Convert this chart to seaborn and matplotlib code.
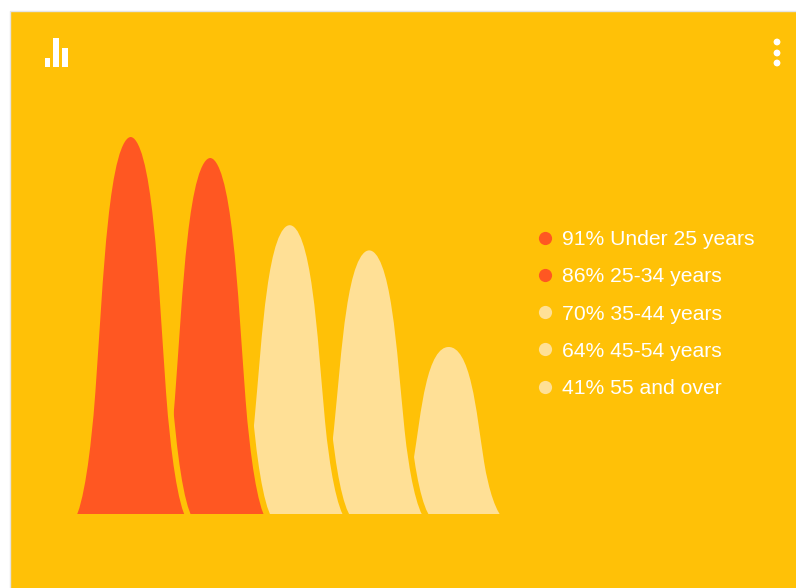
import matplotlib
matplotlib.use("Agg")
import matplotlib.pyplot as plt
import pandas as pd
import seaborn as sns
from matplotlib.lines import Line2D
from matplotlib.patches import Circle, PathPatch, Rectangle
from matplotlib.path import Path
from matplotlib.transforms import Affine2D

ages = ["Under 25 years", "25-34 years", "35-44 years", "45-54 years", "55 and over"]
percent = [91, 86, 70, 64, 41]

AMBER = "#FFC107"
ORANGE = "#FF5722"
PALE = "#FFE096"
bar_colors = [ORANGE, ORANGE, PALE, PALE, PALE]

W, H = 796, 588
STEP_X = 79.5      # px per category
STEP_Y = 4.2       # px per percent
ZERO_Y = 519.2     # pixel row of 0%, the shapes get cut a little above it
FLOOR = (ZERO_Y - 514) / STEP_Y
PAD = 3 / STEP_Y   # amber outline eats 3px, so grow the shape by that much

sns.set_theme(style="white")
plt.rcParams["font.family"] = ["Liberation Sans", "DejaVu Sans"]

fig = plt.figure(figsize=(W / 100, H / 100), dpi=100, facecolor="white")
px = Affine2D().scale(1, -1).translate(0, H)  # pixel coords, y going down

# card behind the chart
fig.add_artist(Rectangle((9.5, 10.5), W, H, facecolor=AMBER, edgecolor="#E4E4E4", lw=1,
                         transform=px, zorder=-1))

ax = fig.add_axes([10 / W, 0, (W - 10) / W, (H - 11) / H])
ax.patch.set_alpha(0)

df = pd.DataFrame({"age": ages, "percent": percent})
sns.barplot(data=df, x="age", y="percent", width=118 / STEP_X, color=AMBER, ax=ax)
ax.set_xlim((10 - 130.7) / STEP_X, (W - 130.7) / STEP_X)
ax.set_ylim(-(H - ZERO_Y) / STEP_Y, (ZERO_Y - 11) / STEP_Y)
ax.axis("off")

# half of a bell as bezier control points: (share of half width, share of height)
profile = [(1.0, 0.0), (0.85, 0.04), (0.728, 0.169), (0.65, 0.329),
           (0.513, 0.62), (0.43, 1.0), (0.0, 1.0)]


def bell(left, width, top):
    # swap a bar for the bell shape, same footprint
    mid = left + width / 2
    rise = top + PAD
    up = [(mid - p * width / 2, q * rise) for p, q in profile]
    down = [(mid + p * width / 2, q * rise) for p, q in reversed(profile[:-1])]
    verts = up + down + [up[0]]
    codes = [Path.MOVETO] + [Path.CURVE4] * (len(verts) - 2) + [Path.CLOSEPOLY]
    return Path(verts, codes)


# first bar on top, its outline cuts into the next one
for i, bar in enumerate(ax.containers[0]):
    bar.set_visible(False)
    shape = PathPatch(bell(bar.get_x(), bar.get_width(), bar.get_height()),
                      facecolor=bar_colors[i], edgecolor=AMBER, lw=4.3,
                      joinstyle="round", zorder=10 - i)
    ax.add_patch(shape)
    shape.set_clip_path(Rectangle((-5, FLOOR), 20, 200, transform=ax.transData))

handles = [Line2D([], [], ls="", marker="o", ms=9.5, mew=0, color=c) for c in bar_colors]
labels = [f"{v}% {a}" for v, a in zip(percent, ages)]
ax.legend(handles, labels, loc="center left", bbox_to_anchor=(533 / W, 1 - 314 / H),
          bbox_transform=fig.transFigure, frameon=False, labelcolor="white",
          prop={"size": 15.2}, labelspacing=0.866,
          handletextpad=0.25, handlelength=1.1, borderpad=0, borderaxespad=0)

# chart icon and menu dots
for x0, y0, w, h in [(44.5, 58, 5.5, 8.5), (53, 37.5, 5.5, 29), (62, 47.5, 5.5, 19)]:
    fig.add_artist(Rectangle((x0, y0), w, h, facecolor="white", lw=0, transform=px))
for y in [42, 53, 63]:
    fig.add_artist(Circle((777, y), 3.4, facecolor="white", lw=0, transform=px))

fig.savefig("out.png", dpi=100, facecolor="white")
